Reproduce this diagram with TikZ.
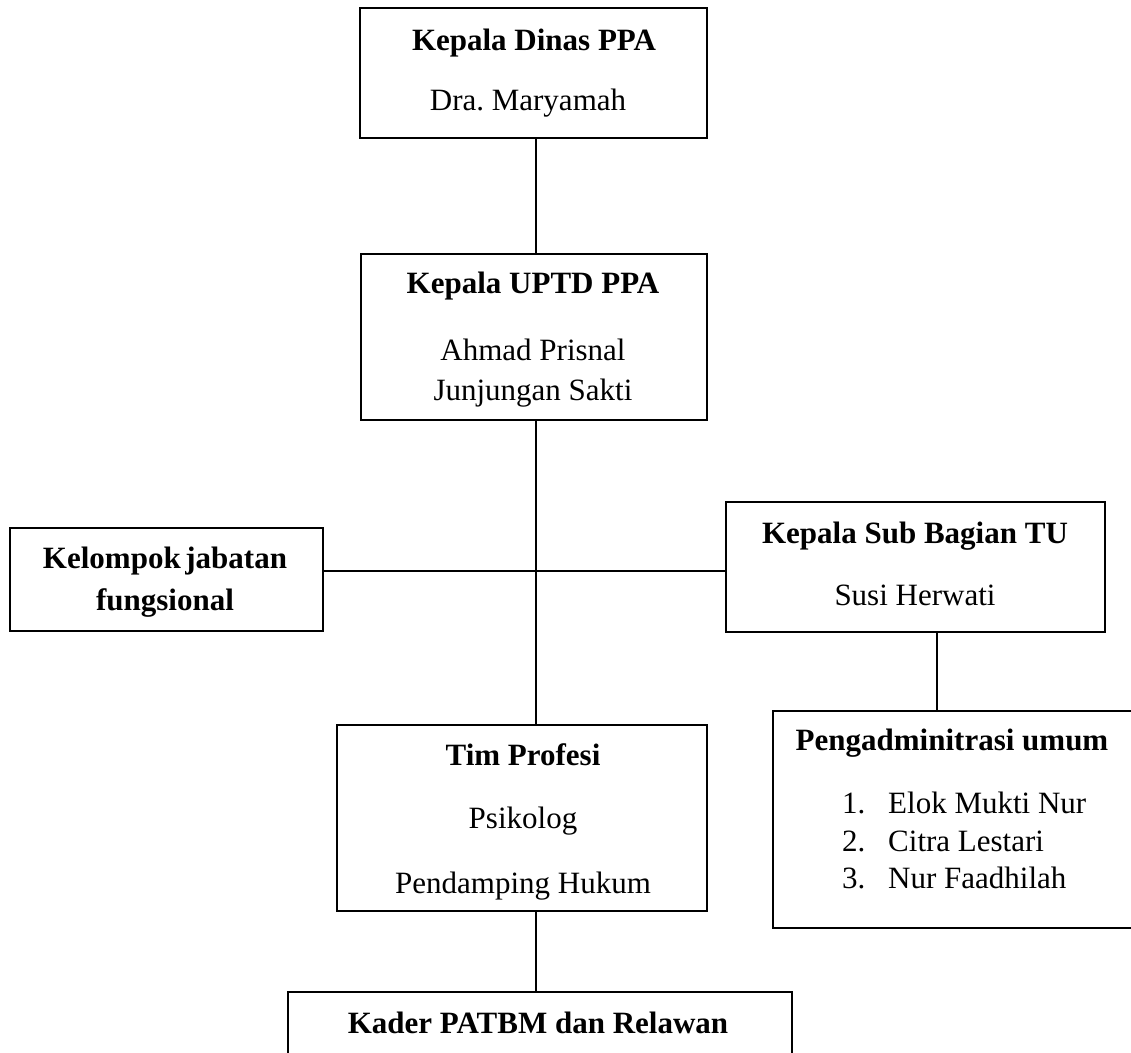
\documentclass[tikz,border=0pt]{standalone}
\usepackage{fontspec}
\setmainfont{Liberation Serif}
\frenchspacing
\begin{document}
\begin{tikzpicture}[x=1pt,y=-1pt,
  box/.style={draw, line width=1.3pt, rectangle, inner sep=0pt, outer sep=0pt},
  txt/.style={inner sep=0pt, anchor=base, font=\fontsize{31}{37}\selectfont},
  hd/.style={inner sep=0pt, anchor=base, font=\fontsize{31}{37}\selectfont\bfseries},
  item/.style={inner sep=0pt, anchor=base west, font=\fontsize{31}{37}\selectfont},
  link/.style={line width=1.3pt}]
\clip (0,0) rectangle (1131,1052);
\fill[white] (0,0) rectangle (1131,1052);

% boxes
\node[box, minimum width=347pt, minimum height=130pt] (dinas) at (533.5,73) {};
\node[box, minimum width=346pt, minimum height=166pt] (uptd) at (534,337) {};
\node[box, minimum width=313pt, minimum height=103pt] (kel) at (166.5,579.5) {};
\node[box, minimum width=379pt, minimum height=130pt] (tu) at (915.5,567) {};
\node[box, minimum width=360pt, minimum height=217pt] (adm) at (953,819.5) {};
\node[box, minimum width=370pt, minimum height=186pt] (tim) at (522,818) {};
\node[box, minimum width=504pt, minimum height=78pt] (kader) at (540,1031) {};

% texts
\node[hd] (dinasA) at (534,50) {Kepala Dinas PPA};
\node[txt] (dinasB) at (528,110) {Dra. Maryamah};

\node[hd] (uptdA) at (533,293) {Kepala UPTD PPA};
\node[txt] (uptdB) at (533,360) {Ahmad Prisnal};
\node[txt] (uptdC) at (533,400) {Junjungan Sakti};

\node[hd] (kelA) at (165,568) {Kelompok\hspace{0.15em}jabatan};
\node[hd] (kelB) at (165,610) {fungsional};

\node[hd] (tuA) at (915,543) {Kepala Sub Bagian TU};
\node[txt] (tuB) at (915,605) {Susi Herwati};

\node[hd] (admA) at (952,750) {Pengadminitrasi umum};
\node[item] (n1) at (842,813) {1.};
\node[item] (e1) at (888,813) {Elok Mukti Nur};
\node[item] (n2) at (842,851) {2.};
\node[item] (e2) at (888,851) {Citra Lestari};
\node[item] (n3) at (842,888) {3.};
\node[item] (e3) at (888,888) {Nur Faadhilah};

\node[hd] (timA) at (523,765) {Tim Profesi};
\node[txt] (timB) at (523,828) {Psikolog};
\node[txt] (timC) at (523,893) {Pendamping Hukum};

\node[hd] (kaderA) at (538,1033) {Kader PATBM dan Relawan};

% connectors
\coordinate (spine) at (536,0);
\coordinate (hl) at (0,571);
\coordinate (tux) at (937,0);
\draw[link] (dinas.south -| spine) -- (uptd.north -| spine);
\draw[link] (uptd.south -| spine) -- (tim.north -| spine);
\draw[link] (tim.south -| spine) -- (kader.north -| spine);
\draw[link] (kel.east |- hl) -- (tu.west |- hl);
\draw[link] (tu.south -| tux) -- (adm.north -| tux);
\end{tikzpicture}
\end{document}
